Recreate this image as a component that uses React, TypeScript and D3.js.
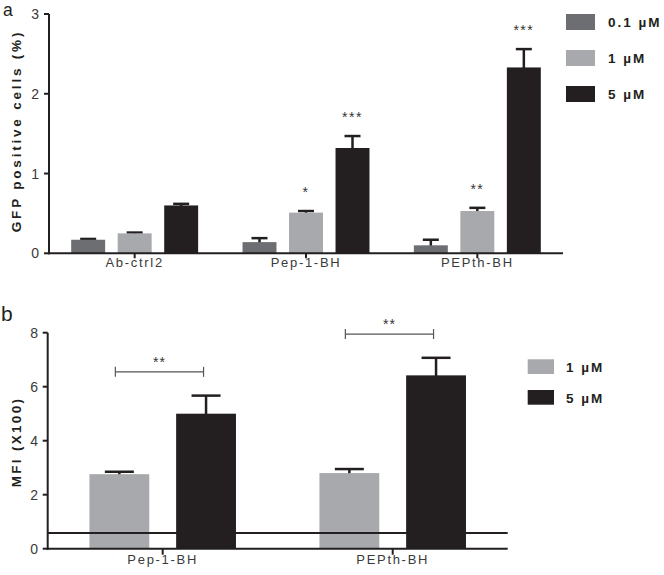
import React from "react";
import * as d3 from "d3";

// ---- Panel a data ----
const groupsA = ["Ab-ctrl2", "Pep-1-BH", "PEPth-BH"];
const seriesA = ["0.1 µM", "1 µM", "5 µM"];
const meanA01 = [0.17, 0.14, 0.1];
const errA01 = [0.01, 0.05, 0.07];
const meanA1 = [0.25, 0.51, 0.53];
const errA1 = [0.01, 0.02, 0.04];
const meanA5 = [0.6, 1.32, 2.33];
const errA5 = [0.02, 0.15, 0.23];
const starsA01 = ["", "", ""];
const starsA1 = ["", "*", "**"];
const starsA5 = ["", "***", "***"];
const ticksA = [0, 1, 2, 3];

// ---- Panel b data ----
const groupsB = ["Pep-1-BH", "PEPth-BH"];
const seriesB = ["1 µM", "5 µM"];
const meanB1 = [2.76, 2.8];
const errB1 = [0.09, 0.15];
const meanB5 = [5.0, 6.42];
const errB5 = [0.67, 0.65];
const bracketYs = [6.55, 7.95];
const bracketLabel = ["**", "**"];
const baselineB = 0.58;
const ticksB = [0, 2, 4, 6, 8];

const colors: Record<string, string> = {
  "0.1 µM": "#6d6e71",
  "1 µM": "#a7a9ac",
  "5 µM": "#231f20",
};

const FONT = "Liberation Sans, Arial, Helvetica, sans-serif";

export default function App() {
  // Panel a scales
  const yA = d3.scaleLinear().domain([0, 3]).range([253.3, 14]);
  const xA = d3.scaleBand().domain(groupsA).range([49, 563]).padding(0);
  const subA = d3
    .scaleBand()
    .domain(seriesA)
    .range([-69.75, 69.75])
    .paddingInner(0.27)
    .paddingOuter(0.135);
  const dataA = [
    { s: seriesA[0], m: meanA01, e: errA01, st: starsA01 },
    { s: seriesA[1], m: meanA1, e: errA1, st: starsA1 },
    { s: seriesA[2], m: meanA5, e: errA5, st: starsA5 },
  ];

  // Panel b scales
  const yB = d3.scaleLinear().domain([0, 8]).range([548.7, 332.7]);
  const xB = d3.scaleBand().domain(groupsB).range([47.7, 507.7]).padding(0);
  const subB = d3
    .scaleBand()
    .domain(seriesB)
    .range([-86.7, 86.7])
    .paddingInner(0.31)
    .paddingOuter(0.155);
  const dataB = [
    { s: seriesB[0], m: meanB1, e: errB1 },
    { s: seriesB[1], m: meanB5, e: errB5 },
  ];

  const tickColor = "#3a3a3a";
  const axisColor = "#231f20";

  return (
    <svg
      width={664}
      height={575}
      style={{ position: "absolute", left: 0, top: 0, background: "#fff" }}
      fontFamily={FONT}
    >
      <rect x={0} y={0} width={664} height={575} fill="#fff" />
      {/* ================= Panel a ================= */}
      <text x={3} y={16} fontSize={17.5} fill="#231f20">a</text>
      {dataA.map((d) =>
        groupsA.map((g, i) => {
          const cx = (xA(g) as number) + xA.bandwidth() / 2;
          const bx = cx + (subA(d.s) as number);
          const bw = subA.bandwidth();
          const mid = bx + bw / 2;
          const top = yA(d.m[i]);
          const et = yA(d.m[i] + d.e[i]);
          return (
            <g key={d.s + g}>
              <line x1={mid} x2={mid} y1={top + 3} y2={et} stroke={axisColor} strokeWidth={2.5} />
              <line x1={mid - 8} x2={mid + 8} y1={et} y2={et} stroke={axisColor} strokeWidth={2.5} />
              <rect x={bx} y={top} width={bw} height={yA(0) - top} fill={colors[d.s]} />
              {d.st[i] && (
                <text
                  x={mid}
                  y={et - 14}
                  textAnchor="middle"
                  fontSize={14}
                  letterSpacing={1.5}
                  fill="#333"
                >
                  {d.st[i]}
                </text>
              )}
            </g>
          );
        })
      )}
      {/* axes a */}
      <line x1={49} x2={49} y1={yA(3)} y2={yA(0) + 1} stroke={axisColor} strokeWidth={2} />
      <line x1={48} x2={563} y1={yA(0)} y2={yA(0)} stroke={axisColor} strokeWidth={2} />
      {ticksA.map((t) => (
        <g key={"ta" + t}>
          <line x1={44} x2={49} y1={yA(t)} y2={yA(t)} stroke={axisColor} strokeWidth={2} />
          <text x={39} y={yA(t) + 5} textAnchor="end" fontSize={14} fill={tickColor}>
            {t}
          </text>
        </g>
      ))}
      {groupsA.map((g) => {
        const cx = (xA(g) as number) + xA.bandwidth() / 2;
        return (
          <g key={"xa" + g}>
            <line x1={cx} x2={cx} y1={yA(0)} y2={yA(0) + 5} stroke={axisColor} strokeWidth={2} />
            <text x={cx} y={267} textAnchor="middle" fontSize={13} letterSpacing={1.7} fill={tickColor}>
              {g}
            </text>
          </g>
        );
      })}
      <text
        transform={`translate(21,131) rotate(-90)`}
        textAnchor="middle"
        fontSize={13.5}
        fontWeight="bold"
        letterSpacing={2.8}
        fill="#231f20"
      >
        GFP positive cells (%)
      </text>
      {/* legend a */}
      {seriesA.map((s, i) => (
        <g key={"la" + s}>
          <rect x={566} y={14 + i * 36} width={29} height={16} fill={colors[s]} />
          <text x={608} y={27 + i * 36} fontSize={13.5} fontWeight="bold" letterSpacing={2} fill="#231f20">
            {s.replace(" ", "  ")}
          </text>
        </g>
      ))}

      {/* ================= Panel b ================= */}
      <text x={1} y={321} fontSize={21} fill="#231f20">b</text>
      {dataB.map((d) =>
        groupsB.map((g, i) => {
          const cx = (xB(g) as number) + xB.bandwidth() / 2;
          const bx = cx + (subB(d.s) as number);
          const bw = subB.bandwidth();
          const mid = bx + bw / 2;
          const top = yB(d.m[i]);
          const et = yB(d.m[i] + d.e[i]);
          return (
            <g key={"b" + d.s + g}>
              <line x1={mid} x2={mid} y1={top + 3} y2={et} stroke={axisColor} strokeWidth={2.5} />
              <line x1={mid - 14.5} x2={mid + 14.5} y1={et} y2={et} stroke={axisColor} strokeWidth={2.5} />
              <rect x={bx} y={top} width={bw} height={yB(0) - top} fill={colors[d.s]} />
            </g>
          );
        })
      )}
      {/* baseline reference line */}
      <line x1={48} x2={507.7} y1={yB(baselineB)} y2={yB(baselineB)} stroke={axisColor} strokeWidth={2} />
      {/* brackets */}
      {groupsB.map((g, i) => {
        const cx = (xB(g) as number) + xB.bandwidth() / 2;
        const x1 = cx + (subB(seriesB[0]) as number) + subB.bandwidth() / 2 - 4;
        const x2 = cx + (subB(seriesB[1]) as number) + subB.bandwidth() / 2 - 2.5;
        const yy = yB(bracketYs[i]);
        return (
          <g key={"br" + g}>
            <line x1={x1} x2={x2} y1={yy} y2={yy} stroke="#555" strokeWidth={1.2} />
            <line x1={x1} x2={x1} y1={yy - 5} y2={yy + 5} stroke="#555" strokeWidth={1.2} />
            <line x1={x2} x2={x2} y1={yy - 5} y2={yy + 5} stroke="#555" strokeWidth={1.2} />
            <text x={(x1 + x2) / 2} y={yy - 5} textAnchor="middle" fontSize={14} letterSpacing={1} fill="#333">
              {bracketLabel[i]}
            </text>
          </g>
        );
      })}
      {/* axes b */}
      <line x1={47.7} x2={47.7} y1={yB(8)} y2={yB(0) + 1} stroke={axisColor} strokeWidth={2} />
      <line x1={46.7} x2={507.7} y1={yB(0)} y2={yB(0)} stroke={axisColor} strokeWidth={2} />
      {ticksB.map((t) => (
        <g key={"tb" + t}>
          <line x1={42.7} x2={47.7} y1={yB(t)} y2={yB(t)} stroke={axisColor} strokeWidth={2} />
          <text x={38} y={yB(t) + 5} textAnchor="end" fontSize={14} fill={tickColor}>
            {t}
          </text>
        </g>
      ))}
      {groupsB.map((g) => {
        const cx = (xB(g) as number) + xB.bandwidth() / 2;
        return (
          <g key={"xb" + g}>
            <line x1={cx} x2={cx} y1={yB(0)} y2={yB(0) + 6} stroke={axisColor} strokeWidth={2} />
            <text x={cx} y={564} textAnchor="middle" fontSize={13} letterSpacing={1.7} fill={tickColor}>
              {g}
            </text>
          </g>
        );
      })}
      <text
        transform={`translate(21,442) rotate(-90)`}
        textAnchor="middle"
        fontSize={13.5}
        fontWeight="bold"
        letterSpacing={2.3}
        fill="#231f20"
      >
        MFI (X100)
      </text>
      {/* legend b */}
      {seriesB.map((s, i) => (
        <g key={"lb" + s}>
          <rect x={527.7} y={359.3 + i * 30.7} width={26.3} height={14.7} fill={colors[s]} />
          <text x={566} y={372 + i * 30.7} fontSize={13.5} fontWeight="bold" letterSpacing={2} fill="#231f20">
            {s.replace(" ", "  ")}
          </text>
        </g>
      ))}
    </svg>
  );
}
